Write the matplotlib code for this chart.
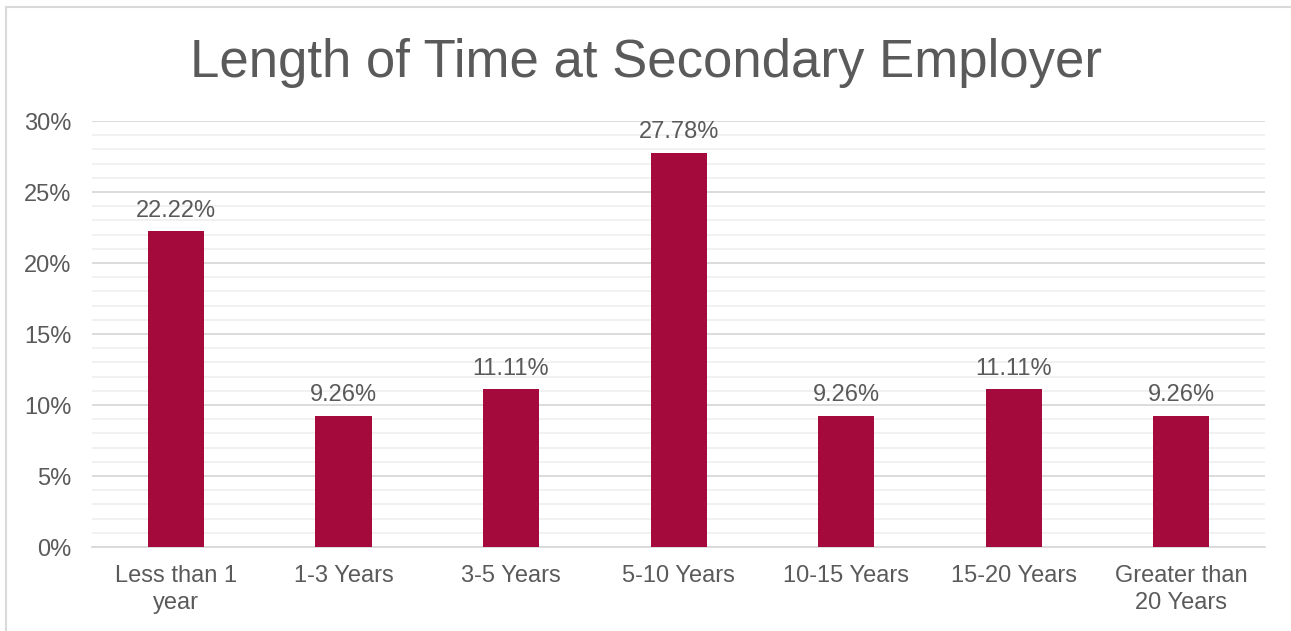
import matplotlib.pyplot as plt
from matplotlib.lines import Line2D
from matplotlib.ticker import MultipleLocator, FuncFormatter

categories = ["Less than 1\nyear", "1-3 Years", "3-5 Years", "5-10 Years",
              "10-15 Years", "15-20 Years", "Greater than\n20 Years"]
values = [22.22, 9.26, 11.11, 27.78, 9.26, 11.11, 9.26]
title = "Length of Time at Secondary Employer"

bar_color = "#A50A3C"
text_color = "#5A5A5A"
major_grid = "#D9D9D9"
minor_grid = "#F0F0F0"

plt.rcParams["font.family"] = ["Liberation Sans", "DejaVu Sans"]

fig = plt.figure(figsize=(12.91, 6.31), dpi=100)
ax = fig.add_axes([0.0713, 0.1331, 0.9087, 0.6751])

x = list(range(len(categories)))
ax.bar(x, values, width=0.335, color=bar_color, zorder=3)

for xi, v in zip(x, values):
    ax.annotate(f"{v:.2f}%", (xi, v), xytext=(0, 7), textcoords="offset points",
                ha="center", va="bottom", fontsize=17, color=text_color)

ax.set_xlim(-0.5, len(categories) - 0.5)
ax.set_ylim(0, 30)
ax.yaxis.set_major_locator(MultipleLocator(5))
ax.yaxis.set_minor_locator(MultipleLocator(1))
ax.yaxis.set_major_formatter(FuncFormatter(lambda v, p: f"{v:.0f}%"))
ax.set_xticks(x)
ax.set_xticklabels(categories, fontsize=17, color=text_color, linespacing=1.3)
ax.tick_params(axis="y", labelsize=17, labelcolor=text_color, length=0, pad=15)
ax.tick_params(axis="y", which="minor", length=0)
ax.tick_params(axis="x", length=0, pad=13)

ax.grid(axis="y", which="major", color=major_grid, linewidth=1.3, zorder=0)
ax.grid(axis="y", which="minor", color=minor_grid, linewidth=1.3, zorder=0)
for s in ["top", "right", "left"]:
    ax.spines[s].set_visible(False)
ax.spines["bottom"].set_color(major_grid)
ax.spines["bottom"].set_linewidth(1.3)

fig.text(0.5, 0.90, title, ha="center", va="center", fontsize=38, color=text_color)

# chart frame edges
fig.add_artist(Line2D([5.5 / 1291, 5.5 / 1291], [0, 1 - 6.5 / 631],
                      transform=fig.transFigure, color=major_grid, linewidth=1.5))
fig.add_artist(Line2D([5.5 / 1291, 1], [1 - 6.5 / 631, 1 - 6.5 / 631],
                      transform=fig.transFigure, color=major_grid, linewidth=1.5))

fig.savefig("out.png", dpi=100, facecolor="white")
